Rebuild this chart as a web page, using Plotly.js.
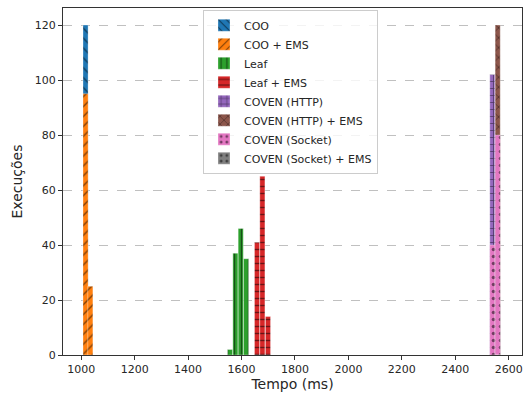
<!DOCTYPE html>
<html>
<head>
<meta charset="utf-8">
<script src="https://cdn.plot.ly/plotly-3.0.1.min.js"></script>
<style>html,body{margin:0;padding:0;background:#fff;}#chart{width:526px;height:394px;}</style>
</head>
<body>
<div id="chart"></div>
<script>
// Series names (legend order)
const seriesNames = ["COO", "COO + EMS", "Leaf", "Leaf + EMS", "COVEN (HTTP)", "COVEN (HTTP) + EMS", "COVEN (Socket)", "COVEN (Socket) + EMS"];
// Bin centres (ms) and counts
const cooX = [1016];
const cooY = [120];
const cooEmsX = [1016, 1034];
const cooEmsY = [95, 25];
const leafX = [1557, 1577, 1597, 1617];
const leafY = [2, 37, 46, 35];
const leafEmsX = [1658, 1678, 1699];
const leafEmsY = [41, 65, 14];
const covenHttpX = [2539, 2559];
const covenHttpY = [102, 18];
const covenHttpEmsX = [2559];
const covenHttpEmsY = [120];
const covenSockX = [2539, 2559];
const covenSockY = [40, 80];
const covenSockEmsX = [2559];
const covenSockEmsY = [0];

const colors = ["#1f77b4", "#ff7f0e", "#2ca02c", "#d62728", "#9467bd", "#8c564b", "#e377c2", "#7f7f7f"];
const hatches = ["\\", "/", "|", "-", "+", "x", ".", "."];
const xs = [cooX, cooEmsX, leafX, leafEmsX, covenHttpX, covenHttpEmsX, covenSockX, covenSockEmsX];
const ys = [cooY, cooEmsY, leafY, leafEmsY, covenHttpY, covenHttpEmsY, covenSockY, covenSockEmsY];

const traces = seriesNames.map((name, i) => ({
  type: "bar",
  name: name,
  x: xs[i],
  y: ys[i],
  width: 19,
  marker: {
    color: colors[i],
    line: {color: "rgba(255,255,255,0.6)", width: 0.5},
    pattern: {shape: hatches[i], fgcolor: "#000", bgcolor: colors[i], size: 7, solidity: 0.2, fillmode: "overlay"}
  }
}));

const layout = {
  width: 526, height: 394,
  margin: {l: 63, r: 4, t: 8, b: 39},
  paper_bgcolor: "#fff", plot_bgcolor: "#fff",
  barmode: "overlay",
  font: {family: "DejaVu Sans", size: 11, color: "#262626"},
  xaxis: {
    range: [931.6, 2650],
    tickvals: [1000, 1200, 1400, 1600, 1800, 2000, 2200, 2400, 2600],
    ticks: "outside", ticklen: 4, tickcolor: "#333",
    showline: true, linecolor: "#333", linewidth: 1, mirror: true,
    showgrid: false, zeroline: false,
    title: {text: "Tempo (ms)", font: {size: 14}, standoff: 3}
  },
  yaxis: {
    range: [0, 126.2],
    tickvals: [0, 20, 40, 60, 80, 100, 120],
    ticks: "outside", ticklen: 4, tickcolor: "#333",
    showline: true, linecolor: "#333", linewidth: 1, mirror: true,
    showgrid: true, gridcolor: "#b0b0b0", griddash: "dash", gridwidth: 0.8,
    zeroline: false,
    title: {text: "Execuções", font: {size: 14}, standoff: 8}
  },
  legend: {
    x: 0.305, y: 0.995, xanchor: "left", yanchor: "top",
    bgcolor: "rgba(255,255,255,0.8)", bordercolor: "#ccc", borderwidth: 1,
    font: {size: 11}
  },
  showlegend: true
};

Plotly.newPlot("chart", traces, layout, {displayModeBar: false, staticPlot: true});
</script>
</body>
</html>
